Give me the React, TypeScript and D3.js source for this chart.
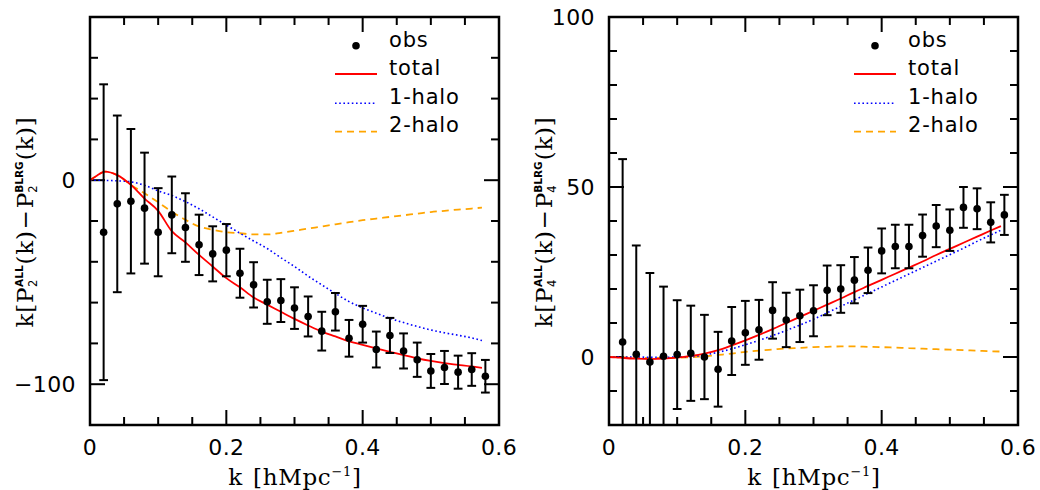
import React from 'react';
import * as d3 from 'd3';

// ---- observed multipole differences ----
const kObs = [0.02, 0.04, 0.06, 0.08, 0.10, 0.12, 0.14, 0.16, 0.18, 0.20, 0.22, 0.24, 0.26, 0.28, 0.30,
  0.32, 0.34, 0.36, 0.38, 0.40, 0.42, 0.44, 0.46, 0.48, 0.50, 0.52, 0.54, 0.56, 0.58];
const p2Obs = [-25.5, -11.6, -10.3, -13.7, -25.5, -17, -23.2, -31.7, -36.1, -34.3, -45.6, -51.3, -59.6, -59,
  -62.7, -66.8, -74, -64.5, -77.5, -70.6, -83, -76.1, -83.7, -88, -93.5, -91.8, -94.1, -92.8, -96.1];
const p2Err = [72.5, 43.3, 35.4, 27.2, 21.6, 18.8, 16.8, 14.8, 13.5, 12.8, 12, 11.1, 10.8, 10.5, 10.2,
  9.8, 9.5, 9.2, 9, 9, 8.8, 8.6, 8.6, 8.4, 8.3, 8.1, 8.1, 8, 8];
const p4Obs = [4.4, 0.8, -1.5, 0.2, 0.7, 1.1, 0, -3.6, 4.7, 7.1, 8, 13.7, 10.9, 12.1, 13.6, 19.6, 20, 22.6,
  25.5, 31.2, 32.5, 32.5, 35.7, 38.5, 37.3, 44, 43.6, 39.6, 41.8];
const p4Err = [53.8, 32, 26.2, 20.5, 16, 14, 12.4, 11, 10, 9.4, 8.8, 8.3, 8, 7.7, 7.5, 7.3, 7, 6.8, 6.7,
  6.6, 6.4, 6.4, 6.2, 6.2, 6.1, 6, 6, 5.9, 5.9];

// ---- halo model curves ----
const kModel = [0, 0.01, 0.022, 0.04, 0.06, 0.08, 0.10, 0.12, 0.14, 0.16, 0.18, 0.20, 0.22, 0.24, 0.26,
  0.28, 0.30, 0.32, 0.34, 0.36, 0.38, 0.40, 0.42, 0.44, 0.46, 0.48, 0.50, 0.52, 0.54, 0.56, 0.575];
const p2Total = [0, 2.2, 4.2, 2.5, -2.3, -9, -15, -25, -30.5, -36.6, -42.3, -48, -52.5, -57.5, -61, -64.5,
  -68, -71.2, -74.2, -76.6, -79, -80.7, -82.4, -84.1, -85.8, -87.3, -88.6, -89.7, -90.5, -91.3, -92];
const p2OneHalo = [0, 0, -0.1, -0.3, -0.8, -2.5, -5.2, -7.5, -10.5, -14, -18, -22, -26, -29.8, -33.5, -38,
  -42.3, -47, -51.3, -55.5, -59.5, -62.6, -65.2, -67.7, -69.8, -71.7, -73.4, -74.8, -76, -77.3, -78.6];
const p2TwoHalo = [0, 2.2, 4.2, 2.5, -2.3, -6.4, -10.8, -15.4, -19.4, -22.7, -24.3, -25.5, -26, -26.6, -26.6,
  -25.8, -24.8, -23.7, -22.7, -21.6, -20.6, -19.6, -18.8, -18, -17.2, -16.4, -15.6, -15, -14.4, -13.9, -13.4];
const p4Total = [0, -0.1, -0.3, -0.5, -0.6, -0.5, -0.2, 0.3, 1.0, 2.0, 3.4, 4.9, 6.5, 8.2, 10.0, 11.8, 13.6,
  15.4, 17.2, 19.1, 20.9, 22.7, 24.5, 26.3, 28.1, 30, 31.8, 33.6, 35.4, 37.2, 38.5];
const p4OneHalo = [0, 0, 0, 0, -0.1, -0.1, 0, 0.1, 0.6, 1.4, 2.4, 3.6, 4.9, 6.3, 7.8, 9.4, 11.1, 13, 14.9,
  16.8, 18.7, 20.6, 22.5, 24.4, 26.3, 28.2, 30.1, 32, 34, 35.9, 37.3];
const p4TwoHalo = [0, -0.05, -0.1, -0.2, -0.3, -0.3, -0.2, -0.1, 0.2, 0.6, 1.0, 1.5, 1.9, 2.2, 2.5, 2.7, 2.9,
  3.0, 3.1, 3.1, 3.0, 2.9, 2.75, 2.6, 2.45, 2.3, 2.15, 2.0, 1.85, 1.7, 1.6];

// ---- ticks / labels ----
const xMajor = [0, 0.2, 0.4, 0.6];
const xMajorLabels = ['0', '0.2', '0.4', '0.6'];
const p2YMajor = [0, -100];
const p2YMajorLabels = ['0', '\u2212100'];
const p4YMajor = [0, 50, 100];
const p4YMajorLabels = ['0', '50', '100'];
const legendLabels = ['obs', 'total', '1-halo', '2-halo'];

const COL_TOTAL = '#ff0000';
const COL_ONE = '#0000ff';
const COL_TWO = '#ffa500';

const SANS = 'DejaVu Sans';
const SERIF = 'DejaVu Serif';

type PanelProps = {
  id: string;
  left: number;
  yDomain: [number, number];
  yMinorCount: number;
  yMajor: number[];
  yMajorLabels: string[];
  obs: number[];
  err: number[];
  total: number[];
  one: number[];
  two: number[];
  ell: string;
};

const TOP = 17;
const W = 409;
const H = 408;

// widths (px) of the small stacked pieces, DejaVu Sans Bold / DejaVu Sans
const SUP_SIZE = 10.5;
const SUB_SIZE = 11.5;
const wALL = (0.774 + 0.637 + 0.637) * SUP_SIZE;
const wBLRG = (0.762 + 0.637 + 0.770 + 0.821) * SUP_SIZE;
const wSub = 0.636 * SUB_SIZE;

function Panel(p: PanelProps) {
  const x = d3.scaleLinear().domain([0, 0.6]).range([p.left, p.left + W]);
  const y = d3.scaleLinear().domain(p.yDomain).range([TOP + H, TOP]);
  const xMinor = x.ticks(12);
  const yMinor = y.ticks(p.yMinorCount);
  const line = d3.line<number>()
    .x((_, i) => x(kModel[i]))
    .curve(d3.curveMonotoneX);
  const pathOf = (arr: number[]) => line.y((d) => y(d))(arr) || '';
  const isMajorX = (v: number) => xMajor.some((m) => Math.abs(m - v) < 1e-9);
  const isMajorY = (v: number) => p.yMajor.some((m) => Math.abs(m - v) < 1e-9);
  const minorLen = 8;
  const majorLen = 15;
  const bottom = TOP + H;
  const right = p.left + W;
  const cap = 4.4;

  const lx0 = p.left + 245;
  const lx1 = p.left + 287;
  const ltx = p.left + 299;
  const lrow = [TOP + 29.5, TOP + 58, TOP + 87, TOP + 115];

  const labelX = p.left - 57;

  return (
    <g>
      <defs>
        <clipPath id={`clip-${p.id}`}>
          <rect x={p.left} y={TOP} width={W} height={H} />
        </clipPath>
      </defs>
      {/* ticks */}
      <g stroke="#000" strokeWidth={2}>
        {xMinor.map((v, i) => {
          const L = isMajorX(v) ? majorLen : minorLen;
          return (
            <g key={`xt${i}`}>
              <line x1={x(v)} x2={x(v)} y1={bottom} y2={bottom - L} />
              <line x1={x(v)} x2={x(v)} y1={TOP} y2={TOP + L} />
            </g>
          );
        })}
        {yMinor.map((v, i) => {
          const L = isMajorY(v) ? majorLen : minorLen;
          return (
            <g key={`yt${i}`}>
              <line x1={p.left} x2={p.left + L} y1={y(v)} y2={y(v)} />
              <line x1={right} x2={right - L} y1={y(v)} y2={y(v)} />
            </g>
          );
        })}
      </g>
      {/* model curves */}
      <g clipPath={`url(#clip-${p.id})`} fill="none">
        <path d={pathOf(p.two)} stroke={COL_TWO} strokeWidth={1.8} strokeDasharray="7 5" />
        <path d={pathOf(p.one)} stroke={COL_ONE} strokeWidth={1.6} strokeDasharray="1.6 2.6" />
        <path d={pathOf(p.total)} stroke={COL_TOTAL} strokeWidth={1.8} />
      </g>
      {/* observations */}
      <g clipPath={`url(#clip-${p.id})`} stroke="#000" strokeWidth={2}>
        {kObs.map((k, i) => {
          const cx = x(k);
          const yt = y(p.obs[i] + p.err[i]);
          const yb = y(p.obs[i] - p.err[i]);
          return (
            <g key={`o${i}`}>
              <line x1={cx} x2={cx} y1={yt} y2={yb} />
              <line x1={cx - cap} x2={cx + cap} y1={yt} y2={yt} />
              <line x1={cx - cap} x2={cx + cap} y1={yb} y2={yb} />
              <circle cx={cx} cy={y(p.obs[i])} r={3.8} fill="#000" stroke="none" />
            </g>
          );
        })}
      </g>
      {/* frame */}
      <rect x={p.left} y={TOP} width={W} height={H} fill="none" stroke="#000" strokeWidth={2.5} />
      {/* tick labels */}
      <g fontFamily={SANS} fontSize={22} fill="#000" letterSpacing={0.4}>
        {xMajor.map((v, i) => (
          <text key={`xl${i}`} x={x(v)} y={455} textAnchor="middle">{xMajorLabels[i]}</text>
        ))}
        {p.yMajor.map((v, i) => (
          <text key={`yl${i}`} x={p.left - 14} y={y(v) + 8} textAnchor="end">{p.yMajorLabels[i]}</text>
        ))}
      </g>
      {/* axis labels */}
      <text x={p.left + 205} y={485} textAnchor="middle" fontFamily={SERIF} fontSize={23} letterSpacing={0.7}>
        <tspan>k</tspan>
        <tspan dx={10}>[hMpc</tspan>
        <tspan fontSize={13} dy={-9}>{'\u22121'}</tspan>
        <tspan dy={9}>]</tspan>
      </text>
      <text transform={`translate(${labelX},222) rotate(-90)`} textAnchor="middle" fontFamily={SERIF} fontSize={23}>
        <tspan letterSpacing={0.7}>k[P</tspan>
        <tspan fontFamily={SANS} fontWeight="bold" fontSize={SUP_SIZE} dy={-10}>ALL</tspan>
        <tspan fontFamily={SANS} fontSize={SUB_SIZE} dx={-wALL} dy={14}>{p.ell}</tspan>
        <tspan letterSpacing={0.7} dx={wALL - wSub + 1} dy={-4}>(k)</tspan>
        <tspan dx={1}>{'\u2212'}</tspan>
        <tspan dx={2}>P</tspan>
        <tspan fontFamily={SANS} fontWeight="bold" fontSize={SUP_SIZE} dy={-10}>BLRG</tspan>
        <tspan fontFamily={SANS} fontSize={SUB_SIZE} dx={-wBLRG} dy={14}>{p.ell}</tspan>
        <tspan letterSpacing={0.7} dx={wBLRG - wSub + 1} dy={-4}>(k)]</tspan>
      </text>
      {/* legend */}
      <g fontFamily={SANS} fontSize={21} fill="#000" letterSpacing={0.8}>
        <circle cx={(lx0 + lx1) / 2} cy={lrow[0] - 0.8} r={3.8} fill="#000" />
        <line x1={lx0} x2={lx1} y1={lrow[1] - 1} y2={lrow[1] - 1} stroke={COL_TOTAL} strokeWidth={1.8} />
        <line x1={lx0} x2={lx1} y1={lrow[2] - 0.7} y2={lrow[2] - 0.7} stroke={COL_ONE} strokeWidth={1.6} strokeDasharray="1.6 2.6" />
        <line x1={lx0} x2={lx1} y1={lrow[3] - 0.3} y2={lrow[3] - 0.3} stroke={COL_TWO} strokeWidth={1.8} strokeDasharray="7 5" />
        {legendLabels.map((t, i) => (
          <text key={`lg${i}`} x={ltx} y={lrow[i]}>{t}</text>
        ))}
      </g>
    </g>
  );
}

export default function App() {
  return (
    <svg width={1040} height={490} viewBox="0 0 1040 490"
      style={{ position: 'absolute', left: 0, top: 0, background: '#fff' }}>
      <rect x={0} y={0} width={1040} height={490} fill="#fff" />
      <Panel id="p2" left={90} yDomain={[-120, 80]} yMinorCount={10} yMajor={p2YMajor}
        yMajorLabels={p2YMajorLabels} obs={p2Obs} err={p2Err} total={p2Total} one={p2OneHalo}
        two={p2TwoHalo} ell="2" />
      <Panel id="p4" left={609} yDomain={[-20, 100]} yMinorCount={12} yMajor={p4YMajor}
        yMajorLabels={p4YMajorLabels} obs={p4Obs} err={p4Err} total={p4Total} one={p4OneHalo}
        two={p4TwoHalo} ell="4" />
    </svg>
  );
}
